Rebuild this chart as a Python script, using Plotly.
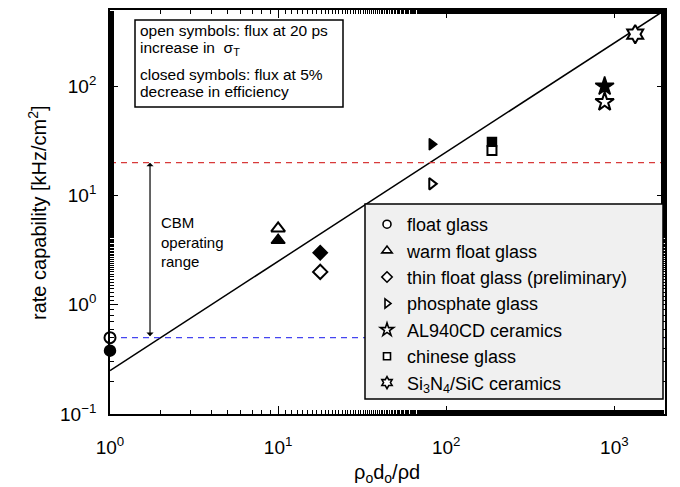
import numpy as np
import plotly.graph_objects as go

# ---- data ----
materials = ["float glass", "warm float glass", "thin float glass (preliminary)",
             "phosphate glass", "AL940CD ceramics", "chinese glass",
             "Si<sub>3</sub>N<sub>4</sub>/SiC ceramics"]
symbols = ["circle", "triangle-up", "diamond", "triangle-right", "star", "square", "hexagram"]
marker_sizes = [11, 12, 11, 10, 14, 9, 14]
legend_sizes = [8, 9, 8, 8, 10, 7, 9]
x_ratio = [1.0, 10.0, 17.8, 82.0, 875.0, 187.0, 1330.0]
open_flux = [0.5, 5.0, 2.0, 12.8, 72.0, 25.8, 300.0]      # 20 ps increase in sigma_T
closed_flux = [0.38, 3.9, 3.0, 29.5, 100.0, 31.0, None]   # 5% decrease in efficiency
line_x = [1.0, 2000.0]
line_y = [0.25, 500.0]
cbm_low = 0.5
cbm_high = 20.0
arrow_x = 1.73

x_ticks = [1, 10, 100, 1000]
x_ticktext = ["10<sup>0</sup>", "10<sup>1</sup>", "10<sup>2</sup>", "10<sup>3</sup>"]
y_ticks = [0.1, 1, 10, 100]
y_ticktext = ["10<sup>\u22121</sup>", "10<sup>0</sup>", "10<sup>1</sup>", "10<sup>2</sup>"]

note_lines = ["open symbols: flux at 20 ps", "increase in  \u03c3<sub>T</sub>",
              "closed symbols: flux at 5%", "decrease in efficiency"]

FONT = "Liberation Sans, Arial, sans-serif"

def px_x(p):
    return (p - 110) / 555

def px_y(p):
    return (414 - p) / 404

fig = go.Figure()

# reference line
fig.add_trace(go.Scatter(x=line_x, y=line_y, mode="lines",
                         line=dict(color="black", width=1.5), showlegend=False, hoverinfo="skip"))
# horizontal dashed lines
fig.add_trace(go.Scatter(x=[1, 2000], y=[cbm_high, cbm_high], mode="lines",
                         line=dict(color="#d83a3a", width=1.2, dash="6px,5px"), showlegend=False))
fig.add_trace(go.Scatter(x=[1, 2000], y=[cbm_low, cbm_low], mode="lines",
                         line=dict(color="#4545f0", width=1.2, dash="6px,5px"), showlegend=False))

# closed symbols
for m, s, ms, xv, yv in zip(materials, symbols, marker_sizes, x_ratio, closed_flux):
    if yv is None:
        continue
    fig.add_trace(go.Scatter(x=[xv], y=[yv], mode="markers", cliponaxis=False,
                             marker=dict(symbol=s, size=ms, color="black",
                                         line=dict(color="black", width=1.5)),
                             showlegend=False))
# open symbols
for m, s, ms, xv, yv in zip(materials, symbols, marker_sizes, x_ratio, open_flux):
    fig.add_trace(go.Scatter(x=[xv], y=[yv], mode="markers", cliponaxis=False,
                             marker=dict(symbol=s, size=ms, color="white",
                                         line=dict(color="black", width=2)),
                             showlegend=False))
# legend entries
for m, s, ls in zip(materials, symbols, legend_sizes):
    fig.add_trace(go.Scatter(x=[None], y=[None], mode="markers", name=m,
                             marker=dict(symbol=s, size=ls, color="white",
                                         line=dict(color="black", width=1.6)),
                             showlegend=True))

axis_common = dict(type="log", showline=True, linecolor="black", linewidth=1.8,
                   mirror="ticks", ticks="inside", ticklen=8, tickwidth=1.2, tickcolor="black",
                   showgrid=False, zeroline=False, automargin=False,
                   tickfont=dict(family=FONT, size=19, color="black"),
                   minor=dict(ticks="inside", ticklen=4, tickwidth=1, tickcolor="black", showgrid=False))

fig.update_xaxes(**axis_common, range=[0, np.log10(2000)], tickvals=x_ticks, ticktext=x_ticktext,
                 ticklabelstandoff=15)
fig.update_yaxes(**axis_common, range=[-1, np.log10(500)], tickvals=y_ticks, ticktext=y_ticktext,
                 ticklabelstandoff=8)

shapes = [
    dict(type="rect", xref="paper", yref="paper",
         x0=px_x(365), x1=px_x(663), y0=px_y(399), y1=px_y(204),
         fillcolor="#f0f0f0", line=dict(color="black", width=1.5), layer="above"),
    dict(type="rect", xref="paper", yref="paper",
         x0=px_x(135), x1=px_x(343), y0=px_y(107), y1=px_y(20),
         fillcolor="white", line=dict(color="black", width=1.5), layer="above"),
]

annotations = []
for txt, yc in zip(note_lines, [30, 49, 74, 92]):
    annotations.append(dict(xref="paper", yref="paper", x=px_x(138), y=px_y(yc),
                            xanchor="left", yanchor="middle", align="left", showarrow=False,
                            text=txt, font=dict(family=FONT, size=15.5, color="black")))
annotations += [
    dict(x=np.log10(1.95), y=np.log10(3.76), xref="x", yref="y", xanchor="left", yanchor="middle",
         align="left", showarrow=False, text="CBM<br>operating<br>range",
         font=dict(family=FONT, size=15, color="black")),
    dict(x=np.log10(arrow_x), y=np.log10(cbm_high), ax=np.log10(arrow_x), ay=np.log10(cbm_low),
         xref="x", yref="y", axref="x", ayref="y", text="", showarrow=True,
         arrowside="end+start", arrowhead=1, arrowsize=1, arrowwidth=1.2, arrowcolor="black"),
    # axis titles
    dict(xref="paper", yref="paper", x=px_x(387), y=px_y(474), xanchor="center", yanchor="middle",
         showarrow=False, text="\u03c1<sub>o</sub>d<sub>o</sub>/\u03c1d",
         font=dict(family=FONT, size=20, color="black")),
    dict(xref="paper", yref="paper", x=px_x(37), y=px_y(213), xanchor="center", yanchor="middle",
         showarrow=False, textangle=-90, text="rate capability [kHz/cm<sup>2</sup>]",
         font=dict(family=FONT, size=20, color="black")),
]

fig.update_layout(
    width=680, height=487,
    margin=dict(l=110, r=15, t=10, b=73),
    paper_bgcolor="white", plot_bgcolor="white",
    font=dict(family=FONT, size=16, color="black"),
    shapes=shapes, annotations=annotations,
    legend=dict(x=px_x(367), y=px_y(206), xanchor="left", yanchor="top",
                bgcolor="rgba(0,0,0,0)", borderwidth=0, tracegroupgap=0,
                font=dict(family=FONT, size=18, color="black")),
)

fig.write_html("out.html")
